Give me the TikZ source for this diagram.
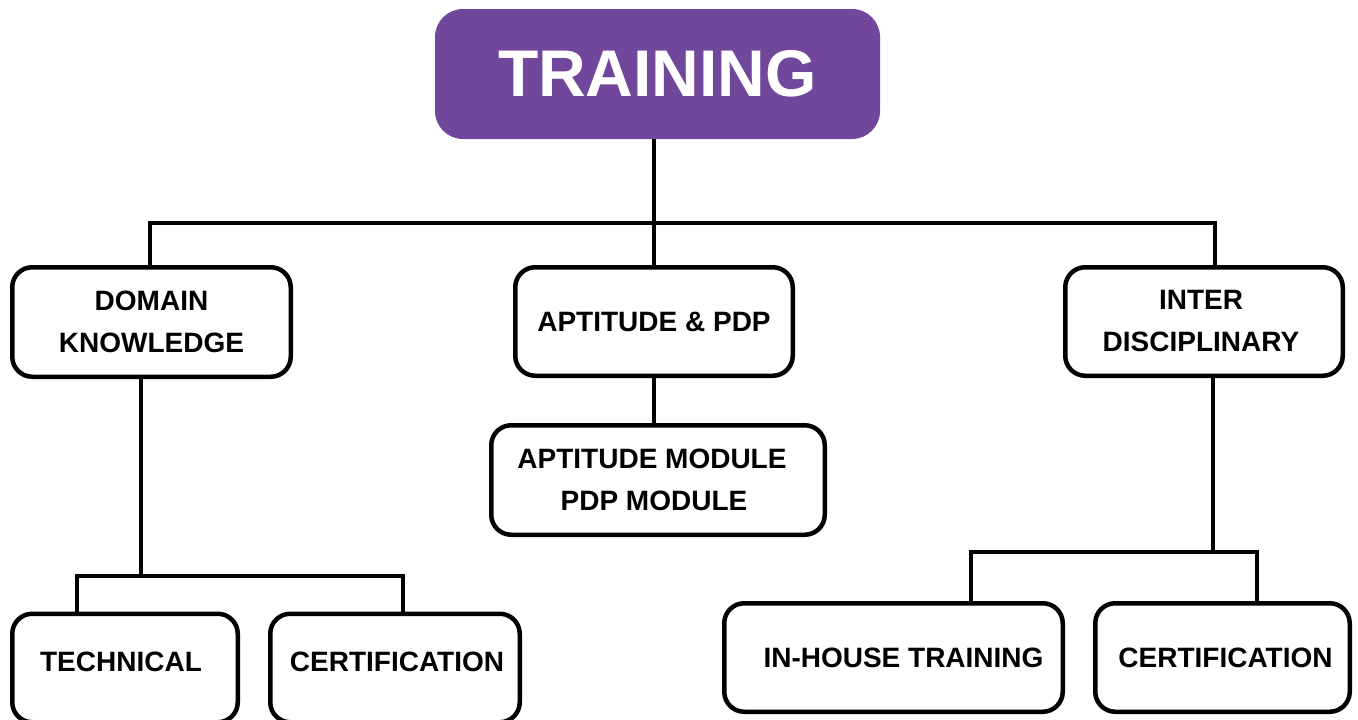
\documentclass[tikz,border=0pt]{standalone}
\usepackage{fontspec}
\setmainfont{Liberation Sans}
\definecolor{trainpurple}{RGB}{112,71,155}
\newcommand{\shiftx}[2]{\kern#1\relax #2\kern-#1\relax}
\newcommand{\shifty}[2]{\raisebox{#1}[\height][\depth]{#2}}
\begin{document}
\begin{tikzpicture}[x=1pt,y=-1pt,
  box/.style={draw=black,line width=4.5pt,rounded corners=20pt,fill=white,
    inner sep=0pt,align=center,font=\fontsize{28}{42}\selectfont\bfseries},
  conn/.style={draw=black,line width=4pt},
  topbox/.style={fill=trainpurple,rounded corners=28pt,inner sep=0pt,
    minimum width=445pt,minimum height=130pt,text=white,
    font=\fontsize{66}{70}\selectfont\bfseries}]
\useasboundingbox (0,0) rectangle (1358,720);
\clip (0,0) rectangle (1358,720);
\fill[white] (0,0) rectangle (1358,720);

\node[topbox] (train) at (657.5,74) {TRAINING};

\node[box,minimum width=278.5pt,minimum height=109.5pt] (dk) at (151.5,322) {DOMAIN\\KNOWLEDGE};
\node[box,minimum width=277.5pt,minimum height=108.5pt] (ap) at (654,321.5) {APTITUDE \& PDP};
\node[box,minimum width=277.5pt,minimum height=108.5pt] (id) at (1204,321.5) {\shiftx{-3pt}{INTER}\\\shiftx{-3pt}{DISCIPLINARY}};
\node[box,minimum width=333.5pt,minimum height=109.5pt] (am) at (658,480) {\shiftx{-6pt}{APTITUDE MODULE}\\\shiftx{-4pt}{PDP MODULE}};

\node[box,minimum width=225.5pt,minimum height=108.5pt] (tech) at (125,668) {\shifty{6pt}{\shiftx{-4pt}{TECHNICAL}}};
\node[box,minimum width=249.5pt,minimum height=108.5pt] (certa) at (395,668) {\shifty{6pt}{\shiftx{2pt}{CERTIFICATION}}};
\node[box,minimum width=338.5pt,minimum height=108.5pt] (ih) at (893.5,657.5) {\shiftx{10pt}{IN-HOUSE TRAINING}};
\node[box,minimum width=254.5pt,minimum height=108.5pt] (certb) at (1222.5,657.5) {\shiftx{3pt}{CERTIFICATION}};

% top bus
\coordinate (jl) at (150,223);
\coordinate (jr) at (1215,223);
\draw[conn] (ap.north |- train.south) -- (ap.north);
\draw[conn] (jl |- dk.north) -- (jl) -- (jr) -- (jr |- id.north);

% domain knowledge branch
\coordinate (kd) at (141,576);
\coordinate (kl) at (77,576);
\coordinate (kr) at (403,576);
\draw[conn] (kd |- dk.south) -- (kd);
\draw[conn] (kl |- tech.north) -- (kl) -- (kr) -- (kr |- certa.north);

% aptitude branch
\draw[conn] (ap.south) -- (ap.south |- am.north);

% inter disciplinary branch
\coordinate (kid) at (1213,552);
\coordinate (ml) at (971,552);
\coordinate (mr) at (1257,552);
\draw[conn] (kid |- id.south) -- (kid);
\draw[conn] (ml |- ih.north) -- (ml) -- (mr) -- (mr |- certb.north);
\end{tikzpicture}
\end{document}
